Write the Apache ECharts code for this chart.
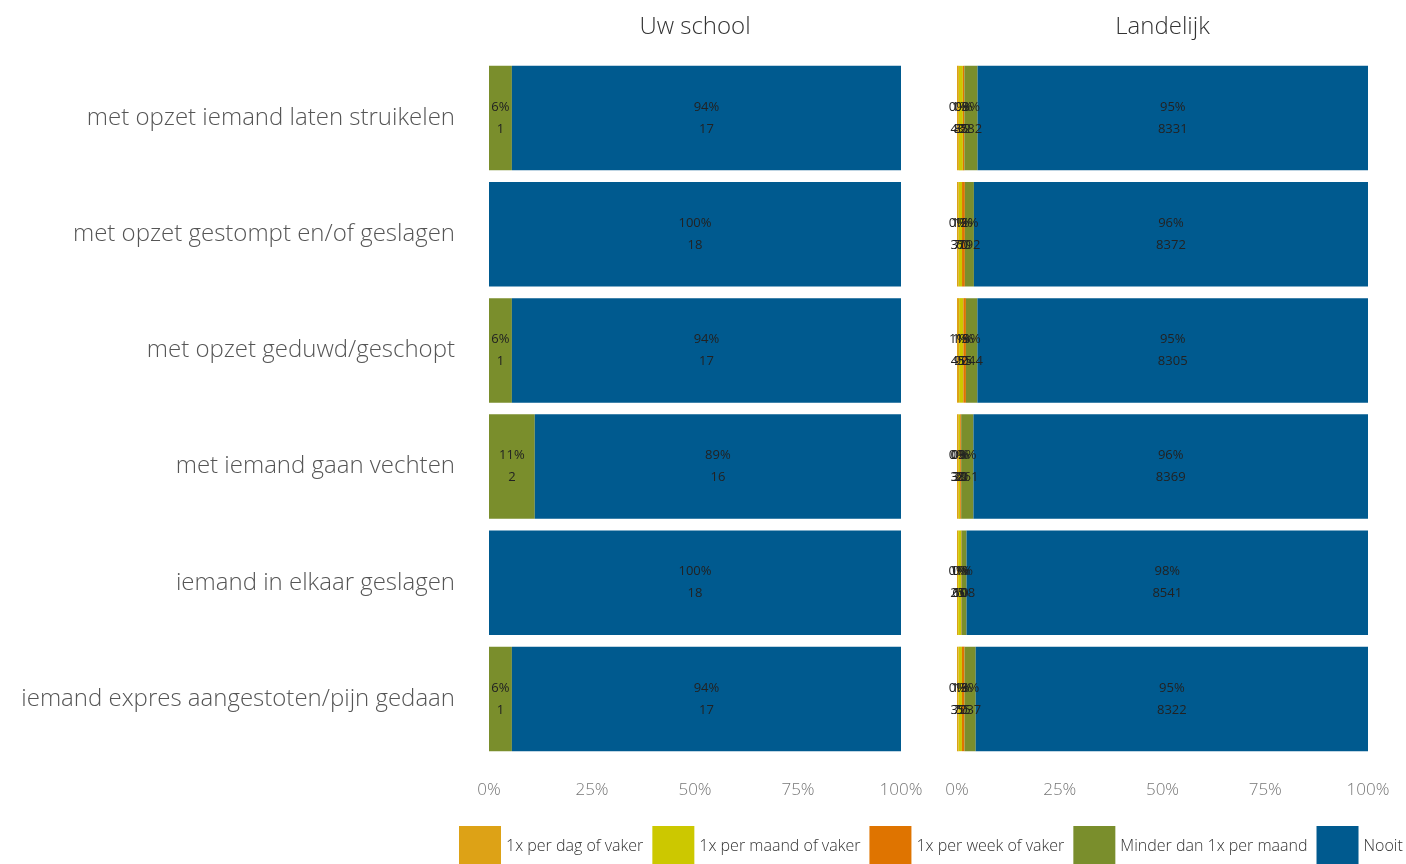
<!DOCTYPE html>
<html><head><meta charset="utf-8">
<script src="https://cdn.jsdelivr.net/npm/echarts@6/dist/echarts.min.js"></script>
<style>html,body{margin:0;padding:0;background:#fff}#c{width:1406px;height:864px}</style>
</head><body><div id="c"></div>
<script>
const categories = [
  'met opzet iemand laten struikelen',
  'met opzet gestompt en/of geslagen',
  'met opzet geduwd/geschopt',
  'met iemand gaan vechten',
  'iemand in elkaar geslagen',
  'iemand expres aangestoten/pijn gedaan'
];
const seriesNames = ['1x per dag of vaker','1x per maand of vaker','1x per week of vaker','Minder dan 1x per maand','Nooit'];
const colors = ['#DDA216','#CCC800','#DF7400','#7A8E2C','#005A8F'];
const panelTitles = ['Uw school','Landelijk'];
const tickLabels = ['0%','25%','50%','75%','100%'];

// Uw school counts
const schoolDag    = [0,0,0,0,0,0];
const schoolMaand  = [0,0,0,0,0,0];
const schoolWeek   = [0,0,0,0,0,0];
const schoolMinder = [1,0,1,2,0,1];
const schoolNooit  = [17,18,17,16,18,17];

// Landelijk counts
const landDag    = [40,37,45,38,25,35];
const landMaand  = [85,70,90,30,60,70];
const landWeek   = [32,60,55,20,10,55];
const landMinder = [282,192,244,261,108,237];
const landNooit  = [8331,8372,8305,8369,8541,8322];

const school = [schoolDag,schoolMaand,schoolWeek,schoolMinder,schoolNooit];
const land = [landDag,landMaand,landWeek,landMinder,landNooit];

function totals(sets){ return categories.map((_,i)=>sets.reduce((s,a)=>s+a[i],0)); }
const schoolTot = totals(school), landTot = totals(land);

const FONT = '"Open Sans", Lato, sans-serif';
const grids = [
  {left:489, width:412, top:60, height:697},
  {left:957, width:411, top:60, height:697}
];
const series = [];
[[school,schoolTot],[land,landTot]].forEach(([sets,tot],gi)=>{
  sets.forEach((arr,si)=>{
    series.push({
      name: seriesNames[si], type:'bar', stack:'s'+gi,
      xAxisIndex:gi, yAxisIndex:gi, barCategoryGap:'10%',
      itemStyle:{color:colors[si]},
      data: arr.map((v,i)=>({value: v/tot[i]*100, count:v})),
      label:{show:true, position:'inside', color:'#222', fontSize:13, fontFamily:FONT, fontWeight:'normal', lineHeight:22,
        formatter: p => p.data.count>0 ? Math.round(p.value)+'%\n'+p.data.count : ''}
    });
  });
});
const chart = echarts.init(document.getElementById('c'));
chart.setOption({
  animation:false,
  textStyle:{fontFamily:FONT},
  title: panelTitles.map((t,i)=>({text:t, left:grids[i].left+grids[i].width/2, top:15, textAlign:'center', padding:0,
    textStyle:{fontSize:24, fontWeight:300, color:'#333', fontFamily:FONT}})),
  grid: grids,
  xAxis: grids.map((g,i)=>({gridIndex:i, type:'value', min:0, max:100, interval:25,
    axisLine:{show:false}, axisTick:{show:false}, splitLine:{show:false},
    axisLabel:{formatter:(v)=>tickLabels[v/25], color:'#777', fontSize:17, fontWeight:300, margin:25, fontFamily:FONT}})),
  yAxis: grids.map((g,i)=>({gridIndex:i, type:'category', data:categories, inverse:true,
    axisLine:{show:false}, axisTick:{show:false},
    axisLabel:{show:i===0, color:'#555', fontSize:24, fontWeight:300, margin:34, fontFamily:FONT}})),
  legend:{data:seriesNames, left:459, top:826, padding:0, itemWidth:42, itemHeight:40, itemGap:9,
    icon:'rect', textStyle:{fontSize:16, color:'#333', fontWeight:300, fontFamily:FONT, padding:[11,0,0,0]}},
  series
});
</script></body></html>
